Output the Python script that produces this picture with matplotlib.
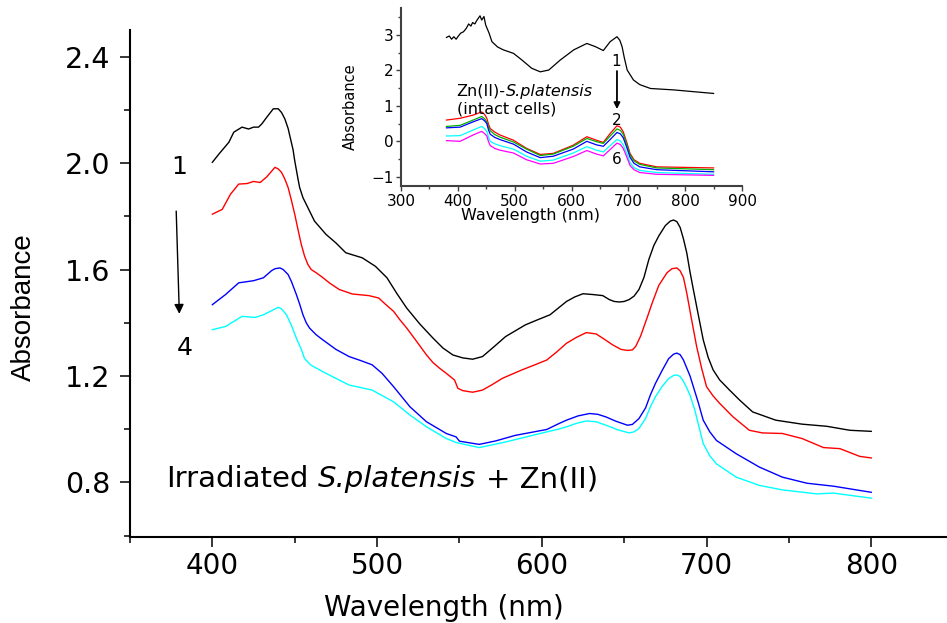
import matplotlib
matplotlib.use("Agg")
import matplotlib.pyplot as plt
from matplotlib.ticker import MultipleLocator

plt.rcParams['font.family'] = ['DejaVu Sans']

# main panel: irradiated S.platensis + Zn(II), curves 1..4
black_x = [400, 404, 410, 413, 418, 422, 425, 428, 430, 433, 437, 440, 442, 444, 446, 447, 449, 450, 452, 453,
           455, 457, 462, 469, 475, 481, 491, 499, 506, 512, 518, 526, 534, 540, 546, 552, 558, 564, 571, 578,
           590, 597, 605, 610, 615, 620, 625, 631, 637, 641, 644, 647, 650, 653, 656, 659, 662, 665, 668, 671,
           675, 678, 680, 682, 684, 686, 688, 690, 692, 695, 698, 701, 704, 708, 714, 720, 728, 742, 758, 773,
           787, 800]
black_y = [2.003, 2.034, 2.078, 2.116, 2.135, 2.128, 2.135, 2.135, 2.147, 2.172, 2.204, 2.204, 2.190, 2.166,
           2.130, 2.103, 2.050, 2.009, 1.940, 1.908, 1.870, 1.845, 1.782, 1.732, 1.700, 1.663, 1.644, 1.612,
           1.569, 1.510, 1.455, 1.395, 1.342, 1.305, 1.279, 1.268, 1.263, 1.273, 1.310, 1.348, 1.392, 1.410,
           1.430, 1.455, 1.480, 1.497, 1.509, 1.506, 1.502, 1.487, 1.480, 1.478, 1.480, 1.487, 1.500, 1.525,
           1.570, 1.638, 1.690, 1.726, 1.765, 1.782, 1.786, 1.780, 1.758, 1.715, 1.663, 1.590, 1.525, 1.430,
           1.336, 1.270, 1.223, 1.185, 1.147, 1.110, 1.065, 1.034, 1.019, 1.011, 0.996, 0.992]

red_x = [400, 406, 411, 416, 421, 425, 429, 433, 438, 440, 442, 444, 446, 448, 450, 452, 454, 456, 458, 460,
         463, 467, 471, 477, 485, 495, 501, 505, 510, 514, 518, 524, 530, 534, 538, 542, 547, 548, 549, 552,
         558, 564, 570, 576, 582, 588, 595, 603, 609, 615, 621, 627, 633, 638, 643, 648, 652, 655, 657, 660,
         664, 667, 671, 676, 679, 682, 684, 686, 688, 691, 694, 697, 700, 704, 708, 716, 726, 734, 746, 758,
         771, 781, 793, 800]
red_y = [1.808, 1.826, 1.883, 1.921, 1.923, 1.931, 1.927, 1.948, 1.984, 1.978, 1.965, 1.940, 1.908, 1.860,
         1.808, 1.750, 1.694, 1.650, 1.619, 1.600, 1.588, 1.570, 1.550, 1.525, 1.508, 1.502, 1.493, 1.470,
         1.443, 1.410, 1.380, 1.330, 1.279, 1.250, 1.229, 1.210, 1.185, 1.170, 1.154, 1.145, 1.139, 1.147,
         1.168, 1.191, 1.207, 1.223, 1.240, 1.260, 1.290, 1.323, 1.345, 1.363, 1.358, 1.338, 1.317, 1.300,
         1.296, 1.298, 1.311, 1.350, 1.420, 1.474, 1.540, 1.588, 1.603, 1.606, 1.595, 1.570, 1.512, 1.410,
         1.311, 1.230, 1.160, 1.125, 1.097, 1.047, 0.996, 0.986, 0.984, 0.965, 0.931, 0.927, 0.898, 0.892]

blue_x = [400, 408, 416, 425, 431, 436, 438, 441, 443, 446, 448, 451, 453, 455, 457, 459, 463, 467, 475, 483,
          490, 497, 503, 510, 520, 530, 542, 548, 550, 562, 572, 584, 603, 610, 615, 622, 629, 634, 639, 645,
          652, 655, 659, 663, 666, 669, 673, 677, 680, 682, 684, 686, 688, 690, 693, 695, 698, 702, 706, 718,
          732, 746, 761, 777, 800]
blue_y = [1.468, 1.506, 1.550, 1.558, 1.569, 1.596, 1.603, 1.606, 1.600, 1.581, 1.555, 1.506, 1.470, 1.430,
          1.400, 1.380, 1.355, 1.336, 1.300, 1.273, 1.258, 1.242, 1.210, 1.160, 1.084, 1.028, 0.984, 0.971,
          0.955, 0.943, 0.956, 0.977, 0.999, 1.020, 1.034, 1.050, 1.059, 1.056, 1.046, 1.030, 1.015, 1.018,
          1.040, 1.080, 1.130, 1.172, 1.220, 1.265, 1.282, 1.286, 1.280, 1.260, 1.230, 1.200, 1.140, 1.100,
          1.034, 0.990, 0.958, 0.908, 0.858, 0.820, 0.797, 0.786, 0.763]

cyan_x = [400, 408, 418, 426, 431, 440, 442, 445, 448, 451, 454, 456, 460, 469, 483, 497, 510, 520, 530, 542,
          548, 562, 578, 603, 610, 615, 621, 627, 633, 639, 646, 653, 656, 659, 663, 666, 669, 673, 677, 680,
          682, 684, 686, 688, 690, 693, 695, 698, 702, 706, 718, 732, 746, 767, 777, 800]
cyan_y = [1.374, 1.386, 1.424, 1.420, 1.430, 1.458, 1.452, 1.430, 1.390, 1.342, 1.300, 1.265, 1.240, 1.210,
          1.166, 1.147, 1.103, 1.053, 1.009, 0.965, 0.950, 0.931, 0.952, 0.990, 1.000, 1.009, 1.022, 1.031,
          1.028, 1.015, 0.998, 0.986, 0.990, 1.003, 1.040, 1.085, 1.122, 1.160, 1.190, 1.202, 1.204, 1.198,
          1.180, 1.155, 1.128, 1.070, 1.020, 0.946, 0.900, 0.870, 0.820, 0.789, 0.772, 0.757, 0.760, 0.741]

# inset: Zn(II)-S.platensis intact cells, curve 1 and curves 2..6
ins_black_x = [380, 385, 389, 393, 397, 401, 405, 410, 415, 419, 423, 426, 430, 433, 436, 439, 442, 446,
               449, 455, 460, 470, 480, 498, 513, 530, 545, 560, 580, 604, 627, 642, 656, 668, 680, 685,
               689, 693, 698, 709, 720, 739, 780, 850]
ins_black_y = [2.93, 2.97, 2.88, 2.95, 2.88, 2.97, 3.05, 3.09, 3.19, 3.31, 3.25, 3.35, 3.31, 3.40, 3.47,
               3.54, 3.42, 3.52, 3.28, 3.05, 2.81, 2.66, 2.58, 2.48, 2.29, 2.06, 1.96, 2.01, 2.29, 2.58,
               2.76, 2.67, 2.56, 2.81, 2.95, 2.85, 2.67, 2.35, 2.01, 1.73, 1.60, 1.49, 1.45, 1.35]

ins_x = [380, 404, 427, 442, 447, 451, 454, 457, 465, 474, 498, 521, 545, 568, 603, 627, 644, 656, 668, 680,
         686, 691, 697, 703, 710, 720, 750, 850]
ins_red = [0.60, 0.65, 0.74, 0.83, 0.76, 0.65, 0.48, 0.36, 0.26, 0.18, 0.03, -0.20, -0.37, -0.34, -0.11,
           0.13, 0.03, -0.03, 0.22, 0.44, 0.40, 0.27, -0.02, -0.34, -0.52, -0.62, -0.72, -0.75]
ins_green = [0.42, 0.45, 0.60, 0.70, 0.64, 0.55, 0.40, 0.30, 0.19, 0.12, -0.02, -0.22, -0.40, -0.36, -0.14,
             0.08, -0.01, -0.06, 0.15, 0.35, 0.31, 0.20, -0.08, -0.38, -0.55, -0.65, -0.75, -0.80]
ins_blue = [0.38, 0.40, 0.55, 0.64, 0.58, 0.50, 0.32, 0.20, 0.11, 0.05, -0.08, -0.30, -0.46, -0.42, -0.22,
            0.00, -0.10, -0.14, 0.05, 0.25, 0.21, 0.10, -0.16, -0.45, -0.62, -0.72, -0.80, -0.86]
ins_cyan = [0.15, 0.16, 0.32, 0.42, 0.36, 0.28, 0.12, 0.00, -0.07, -0.12, -0.22, -0.42, -0.56, -0.53, -0.33,
            -0.15, -0.25, -0.30, -0.12, 0.05, 0.01, -0.10, -0.33, -0.60, -0.74, -0.82, -0.88, -0.93]
ins_magenta = [0.02, 0.00, 0.18, 0.28, 0.22, 0.15, -0.01, -0.12, -0.20, -0.25, -0.33, -0.52, -0.64, -0.62,
               -0.43, -0.26, -0.36, -0.41, -0.23, -0.05, -0.09, -0.20, -0.43, -0.68, -0.80, -0.88, -0.93, -0.96]

fig = plt.figure(figsize=(9.47, 6.23), dpi=100)

# ---- main plot ----
ax = fig.add_axes([130 / 947, 1 - 537 / 623, 817 / 947, 507 / 623])
ax.plot(black_x, black_y, color='black', lw=1.0)
ax.plot(red_x, red_y, color='#ff0000', lw=1.0)
ax.plot(blue_x, blue_y, color='#0000ff', lw=1.0)
ax.plot(cyan_x, cyan_y, color='#00ffff', lw=1.0)

ax.set_xlim(350, 846)
ax.set_ylim(0.595, 2.5)
ax.spines['top'].set_visible(False)
ax.spines['right'].set_visible(False)
ax.spines['left'].set_linewidth(1.5)
ax.spines['bottom'].set_linewidth(1.5)
ax.xaxis.set_major_locator(MultipleLocator(100))
ax.xaxis.set_minor_locator(MultipleLocator(50))
ax.yaxis.set_major_locator(MultipleLocator(0.4))
ax.yaxis.set_minor_locator(MultipleLocator(0.2))
ax.yaxis.set_major_formatter(plt.FormatStrFormatter('%.1f'))
ax.tick_params(which='major', length=7, width=1.1, direction='out')
ax.tick_params(which='minor', length=4.5, width=1.1, direction='out')
ax.tick_params(axis='x', labelsize=20, pad=4)
ax.tick_params(axis='y', labelsize=20.5, pad=7)

ax.set_xlabel('Wavelength (nm)', fontsize=20)
ax.xaxis.set_label_coords(0.384, -0.112)
ax.set_ylabel('Absorbance', fontsize=20, family='Liberation Sans')
ax.yaxis.set_label_coords(-0.114, 0.454)

ax.text(380, 1.985, '1', fontsize=18, ha='center', va='center')
ax.text(383, 1.306, '4', fontsize=18, ha='center', va='center')
ax.annotate('', xy=(380, 1.423), xytext=(378, 1.830),
            arrowprops=dict(arrowstyle='-|>', color='black', lw=1.0, mutation_scale=14))

# caption with italic species name, pieces chained left to right
t1 = ax.text(372, 0.782, 'Irradiated', fontsize=21, ha='left', va='baseline')
t2 = ax.annotate('S.platensis', xy=(1, 0), xycoords=t1, xytext=(6.7, 0), textcoords='offset points',
                 fontsize=21, style='italic', ha='left', va='bottom')
ax.annotate('+ Zn(II)', xy=(1, 0), xycoords=t2, xytext=(6.7, 0), textcoords='offset points',
            fontsize=21, ha='left', va='bottom')

# ---- inset ----
ins = fig.add_axes([401 / 947, 1 - 186 / 623, 341 / 947, 178 / 623])
ins.plot(ins_black_x, ins_black_y, color='black', lw=0.9)
ins.plot(ins_x, ins_red, color='#ff0000', lw=0.9)
ins.plot(ins_x, ins_green, color='#00b000', lw=0.9)
ins.plot(ins_x, ins_blue, color='#0000ff', lw=0.9)
ins.plot(ins_x, ins_cyan, color='#00ffff', lw=0.9)
ins.plot(ins_x, ins_magenta, color='#ff00ff', lw=0.9)

ins.set_xlim(300, 900)
ins.set_ylim(-1.26, 3.76)
ins.patch.set_alpha(0)
ins.spines['top'].set_visible(False)
ins.spines['right'].set_visible(False)
for s in ('left', 'bottom'):
    ins.spines[s].set_linewidth(1.5)
    ins.spines[s].set_color('#404040')
ins.xaxis.set_major_locator(MultipleLocator(100))
ins.xaxis.set_minor_locator(MultipleLocator(50))
ins.yaxis.set_major_locator(MultipleLocator(1))
ins.yaxis.set_minor_locator(MultipleLocator(0.5))
ins.tick_params(which='major', length=3.5, width=1.0, color='#404040', labelsize=11, pad=2)
ins.tick_params(which='minor', length=2.2, width=1.0, color='#404040')
ins.set_xlabel('Wavelength (nm)', fontsize=11.5)
ins.xaxis.set_label_coords(0.381, -0.125)
ins.set_ylabel('Absorbance', fontsize=10.5)
ins.yaxis.set_label_coords(-0.126, 0.445)

i1 = ins.text(398, 1.29, 'Zn(II)-', fontsize=11.5, ha='left', va='baseline')
ins.annotate('S.platensis', xy=(1, 0), xycoords=i1, fontsize=11.5, style='italic', ha='left', va='bottom')
ins.text(398, 0.78, '(intact cells)', fontsize=11.5, ha='left', va='baseline')
ins.text(678, 2.25, '1', fontsize=11, ha='center', va='center')
ins.text(680, 0.60, '2', fontsize=11, ha='center', va='center')
ins.text(680, -0.51, '6', fontsize=11, ha='center', va='center')
ins.annotate('', xy=(680, 0.83), xytext=(680, 2.06),
             arrowprops=dict(arrowstyle='-|>', color='black', lw=1.3, mutation_scale=9))

fig.savefig('out.png', dpi=100)
